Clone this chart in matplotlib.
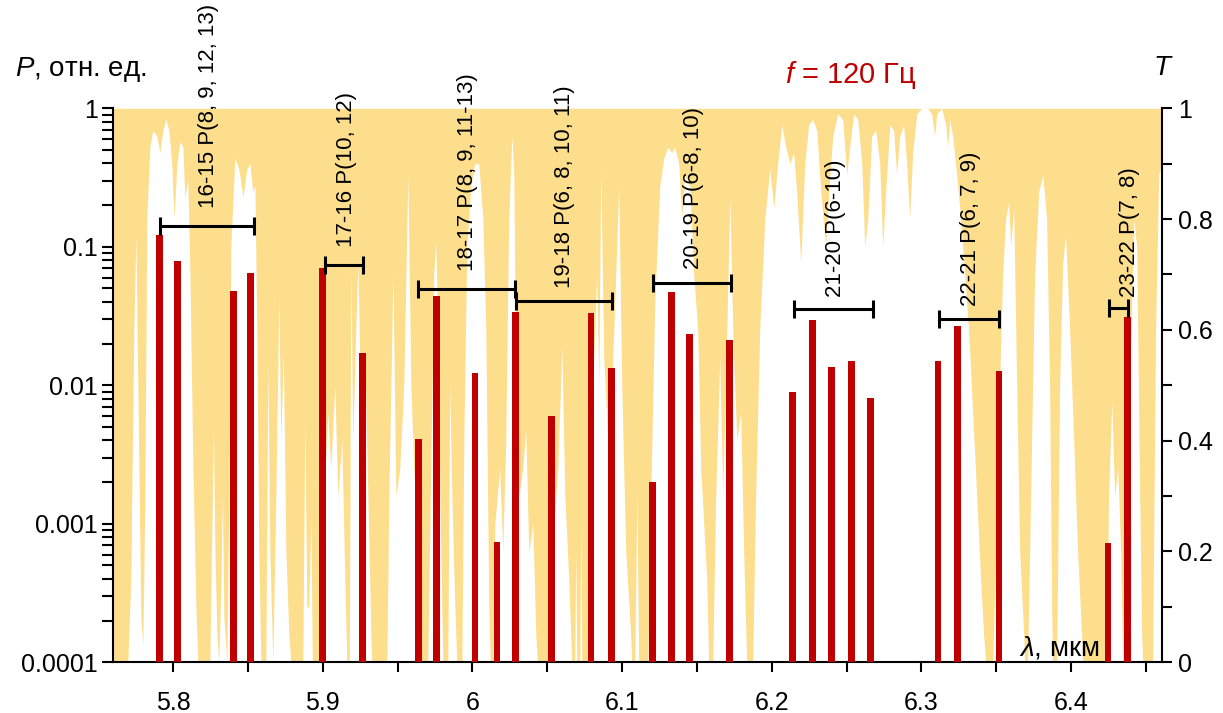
import matplotlib
matplotlib.use("Agg")
import matplotlib.pyplot as plt
from matplotlib.ticker import LogLocator, NullFormatter, FixedLocator

plt.rcParams['font.family'] = ['Liberation Sans', 'DejaVu Sans']
plt.rcParams['mathtext.fontset'] = 'custom'
plt.rcParams['mathtext.it'] = 'Liberation Sans:italic'
plt.rcParams['mathtext.rm'] = 'Liberation Sans'

# ---- transmission spectrum T(lambda) ----
trans_lam = [5.760, 5.7697, 5.7717, 5.7737, 5.7751, 5.7764, 5.7784, 5.7798, 5.7811, 5.7824,
             5.7844, 5.7864, 5.7891, 5.7911, 5.7931, 5.7951, 5.7971, 5.7991, 5.8005, 5.8025,
             5.8045, 5.8065, 5.8078, 5.8098, 5.8112, 5.8132, 5.8152, 5.8165, 5.8245, 5.8259,
             5.8269, 5.8279, 5.8292, 5.8305, 5.8319, 5.8329, 5.8339, 5.8359, 5.8372, 5.8385,
             5.8412, 5.8439, 5.8466, 5.8492, 5.8512, 5.8532, 5.8546, 5.8559, 5.8572, 5.8586,
             5.8619, 5.8633, 5.8646, 5.8666, 5.8686, 5.8706, 5.8719, 5.8736, 5.8753, 5.8773,
             5.8786, 5.8866, 5.8880, 5.8893, 5.8906, 5.8920, 5.8930, 5.8993, 5.9007, 5.9033,
             5.9053, 5.9080, 5.9100, 5.9127, 5.9147, 5.9160, 5.9177, 5.9187, 5.9200, 5.9220,
             5.9234, 5.9254, 5.9281, 5.9301, 5.9321, 5.9327, 5.9428, 5.9441, 5.9468, 5.9488,
             5.9514, 5.9541, 5.9568, 5.9588, 5.9608, 5.9635, 5.9648, 5.9701, 5.9721, 5.9741,
             5.9755, 5.9768, 5.9788, 5.9802, 5.9835, 5.9848, 5.9862, 5.9882, 5.9895, 5.9929,
             5.9942, 5.9962, 5.9989, 6.0015, 6.0042, 6.0069, 6.0089, 6.0109, 6.0119, 6.0136,
             6.0149, 6.0182, 6.0202, 6.0222, 6.0242, 6.0263, 6.0276, 6.0289, 6.0309, 6.0336,
             6.0356, 6.0376, 6.0403, 6.0423, 6.0433, 6.0503, 6.0516, 6.0543, 6.0570, 6.0597,
             6.0617, 6.0643, 6.0663, 6.0683, 6.0690, 6.0697, 6.0717, 6.0723, 6.0730, 6.0770,
             6.0784, 6.0810, 6.0830, 6.0844, 6.0857, 6.0877, 6.0904, 6.0931, 6.0957, 6.0977,
             6.0997, 6.1024, 6.1057, 6.1064, 6.1084, 6.1098, 6.1111, 6.1171, 6.1191, 6.1218,
             6.1251, 6.1278, 6.1305, 6.1331, 6.1351, 6.1378, 6.1398, 6.1418, 6.1452, 6.1478,
             6.1505, 6.1525, 6.1545, 6.1565, 6.1578, 6.1605, 6.1625, 6.1652, 6.1672, 6.1699,
             6.1719, 6.1739, 6.1766, 6.1792, 6.1812, 6.1832, 6.1872, 6.1892, 6.1919, 6.1953,
             6.1986, 6.2013, 6.2039, 6.2066, 6.2093, 6.2120, 6.2146, 6.2166, 6.2193, 6.2220,
             6.2246, 6.2273, 6.2300, 6.2327, 6.2360, 6.2380, 6.2407, 6.2440, 6.2474, 6.2500,
             6.2520, 6.2547, 6.2574, 6.2601, 6.2621, 6.2641, 6.2667, 6.2694, 6.2721, 6.2741,
             6.2761, 6.2788, 6.2814, 6.2834, 6.2854, 6.2881, 6.2901, 6.2921, 6.2941, 6.2968,
             6.3001, 6.3041, 6.3068, 6.3088, 6.3102, 6.3135, 6.3162, 6.3175, 6.3188, 6.3208,
             6.3235, 6.3262, 6.3289, 6.3315, 6.3342, 6.3369, 6.3395, 6.3415, 6.3429, 6.3476,
             6.3496, 6.3522, 6.3542, 6.3562, 6.3582, 6.3596, 6.3616, 6.3636, 6.3656, 6.3683,
             6.3689, 6.3709, 6.3729, 6.3756, 6.3783, 6.3810, 6.3836, 6.3856, 6.3870, 6.3876,
             6.3903, 6.3923, 6.3943, 6.3963, 6.3990, 6.4017, 6.4043, 6.4070, 6.4077, 6.4237,
             6.4250, 6.4271, 6.4291, 6.4311, 6.4331, 6.4344, 6.4371, 6.4391, 6.4418, 6.4438,
             6.4458, 6.4471, 6.4478, 6.4544, 6.4564, 6.4585, 6.4605]
trans_T = [0.0, 0.0, 0.15, 0.6, 0.77, 0.5, 0.08, 0.03, 0.3, 0.8,
           0.93, 0.96, 0.95, 0.92, 0.96, 0.98, 0.96, 0.9, 0.8, 0.9,
           0.94, 0.93, 0.84, 0.87, 0.7, 0.35, 0.1, 0.0, 0.0, 0.25,
           0.42, 0.2, 0.05, 0.0, 0.15, 0.3, 0.08, 0.0, 0.3, 0.75,
           0.91, 0.89, 0.84, 0.89, 0.9, 0.85, 0.86, 0.6, 0.2, 0.0,
           0.0, 0.54, 0.2, 0.0, 0.3, 0.66, 0.4, 0.56, 0.2, 0.05,
           0.0, 0.0, 0.44, 0.1, 0.1, 0.26, 0.0, 0.0, 0.3, 0.45,
           0.35, 0.5, 0.3, 0.4, 0.15, 0.0, 0.0, 0.71, 0.4, 0.6,
           0.72, 0.45, 0.55, 0.3, 0.05, 0.0, 0.0, 0.3, 0.70, 0.3,
           0.35, 0.5, 0.88, 0.5, 0.35, 0.2, 0.0, 0.0, 0.35, 0.7,
           0.76, 0.6, 0.2, 0.0, 0.0, 0.5, 0.3, 0.1, 0.0, 0.0,
           0.4, 0.75, 0.86, 0.9, 0.9, 0.8, 0.6, 0.1, 0.0, 0.0,
           0.25, 0.35, 0.2, 0.4, 0.8, 0.95, 0.88, 0.5, 0.3, 0.35,
           0.42, 0.2, 0.25, 0.05, 0.0, 0.0, 0.2, 0.25, 0.35, 0.57,
           0.3, 0.15, 0.0, 0.0, 0.2, 0.0, 0.0, 0.25, 0.0, 0.0,
           0.3, 0.55, 0.7, 0.5, 0.89, 0.55, 0.4, 0.5, 0.7, 0.86,
           0.5, 0.2, 0.05, 0.0, 0.0, 0.3, 0.0, 0.0, 0.3, 0.65,
           0.86, 0.91, 0.93, 0.92, 0.93, 0.9, 0.8, 0.88, 0.86, 0.7,
           0.6, 0.35, 0.25, 0.15, 0.0, 0.0, 0.3, 0.55, 0.3, 0.6,
           0.84, 0.6, 0.4, 0.45, 0.2, 0.0, 0.0, 0.3, 0.6, 0.8,
           0.89, 0.82, 0.9, 0.97, 0.93, 0.9, 0.92, 0.85, 0.72, 0.9,
           0.97, 0.98, 0.96, 0.85, 0.75, 0.85, 0.95, 0.99, 0.98, 0.88,
           0.93, 0.99, 0.98, 0.9, 0.75, 0.8, 0.95, 0.96, 0.9, 0.75,
           0.85, 0.97, 0.96, 0.88, 0.95, 0.97, 0.9, 0.8, 0.92, 0.99,
           1.0, 1.0, 0.99, 0.95, 0.99, 1.0, 0.97, 0.93, 0.98, 0.95,
           0.88, 0.8, 0.7, 0.6, 0.45, 0.3, 0.15, 0.05, 0.0, 0.0,
           0.2, 0.5, 0.7, 0.8, 0.83, 0.75, 0.82, 0.5, 0.2, 0.05,
           0.0, 0.0, 0.3, 0.7, 0.85, 0.88, 0.8, 0.5, 0.1, 0.0,
           0.0, 0.5, 0.72, 0.77, 0.6, 0.4, 0.2, 0.05, 0.0, 0.0,
           0.3, 0.47, 0.3, 0.35, 0.2, 0.0, 0.0, 0.5, 0.8, 0.75,
           0.3, 0.05, 0.0, 0.0, 0.6, 0.88, 0.9]

# ---- laser line powers ----
line_lam = [5.7907, 5.8030, 5.8402, 5.8518, 5.9000, 5.9266, 5.9637, 5.9760, 6.0016, 6.0163,
            6.0287, 6.0527, 6.0791, 6.0929, 6.1201, 6.1330, 6.1448, 6.1715, 6.2136, 6.2271,
            6.2399, 6.2532, 6.2661, 6.3111, 6.3241, 6.3518, 6.4247, 6.4376]
line_P = [0.122, 0.079, 0.048, 0.065, 0.070, 0.0172, 0.0041, 0.044, 0.0123, 0.00074,
          0.034, 0.0060, 0.033, 0.0134, 0.0020, 0.0475, 0.0234, 0.0213, 0.0090, 0.0295,
          0.0136, 0.0149, 0.0081, 0.0150, 0.0269, 0.0127, 0.00073, 0.0312]

# ---- band brackets and labels ----
band_left = [5.7911, 5.9013, 5.9637, 6.0288, 6.1207, 6.2147, 6.3118, 6.4251]
band_right = [5.8539, 5.9270, 6.0283, 6.0933, 6.1726, 6.2677, 6.3519, 6.4378]
band_P = [0.141, 0.0739, 0.0498, 0.0407, 0.0552, 0.0353, 0.0299, 0.0361]
band_text = ["16-15 P(8, 9, 12, 13)", "17-16 P(10, 12)", "18-17 P(8, 9, 11-13)",
             "19-18 P(6, 8, 10, 11)", "20-19 P(6-8, 10)", "21-20 P(6-10)",
             "22-21 P(6, 7, 9)", "23-22 P(7, 8)"]
band_text_lam = [5.8233, 5.9160, 5.9969, 6.0617, 6.1478, 6.2427, 6.3329, 6.4390]
band_text_P = [0.19, 0.0997, 0.0669, 0.0504, 0.0687, 0.0434, 0.0371, 0.0434]

x_ticks = [5.8, 5.9, 6.0, 6.1, 6.2, 6.3, 6.4]
x_ticklabels = ["5.8", "5.9", "6", "6.1", "6.2", "6.3", "6.4"]
x_minor = [5.85, 5.95, 6.05, 6.15, 6.25, 6.35, 6.45]
p_ticks = [1e-4, 1e-3, 1e-2, 1e-1, 1]
p_ticklabels = ["0.0001", "0.001", "0.01", "0.1", "1"]
t_ticks = [0, 0.2, 0.4, 0.6, 0.8, 1]
t_ticklabels = ["0", "0.2", "0.4", "0.6", "0.8", "1"]
t_minor = [0.1, 0.3, 0.5, 0.7, 0.9]

RED = "#C00000"
YELLOW = "#FDDE8D"
FS = 18

fig = plt.figure(figsize=(12.23, 7.13), dpi=100)
ax = fig.add_axes([0.09264, 0.07111, 0.85724, 0.77700])
ax2 = ax.twinx()
ax.set_zorder(2)
ax2.set_zorder(1)
ax.patch.set_visible(False)

ax2.fill_between(trans_lam, trans_T, 1, color=YELLOW, lw=0)
ax2.set_ylim(0, 1)

bottom = 1e-5
ax.bar(line_lam, [p - bottom for p in line_P], bottom=bottom, width=0.0045,
       color=RED, lw=0, zorder=3)
ax.set_yscale("log")
ax.set_ylim(1e-4, 1)
ax.set_xlim(5.76, 6.4605)

for l, r, p in zip(band_left, band_right, band_P):
    ax.errorbar([(l + r) / 2], [p], xerr=[(r - l) / 2], fmt="none", ecolor="black",
                elinewidth=2.2, capsize=6.5, capthick=2.2, zorder=4)
for t, xl, yp in zip(band_text, band_text_lam, band_text_P):
    ax.text(xl, yp, t, rotation=90, ha="center", va="bottom", fontsize=16, zorder=5)

# ticks
ax.set_xticks(x_ticks)
ax.set_xticklabels(x_ticklabels)
ax.xaxis.set_minor_locator(FixedLocator(x_minor))
ax.set_yticks(p_ticks)
ax.set_yticklabels(p_ticklabels)
ax.yaxis.set_minor_locator(LogLocator(base=10, subs=range(2, 10)))
ax.yaxis.set_minor_formatter(NullFormatter())
ax.tick_params(axis="x", which="both", direction="out", length=7.5, width=1.5,
               labelsize=FS, pad=13)
ax.tick_params(axis="y", which="both", direction="out", length=8, width=1.5,
               labelsize=FS, pad=3)
ax2.set_yticks(t_ticks)
ax2.set_yticklabels(t_ticklabels)
ax2.yaxis.set_minor_locator(FixedLocator(t_minor))
ax2.tick_params(axis="y", which="both", direction="out", length=7, width=1.5,
                labelsize=FS, pad=5)

for s in ["top", "right"]:
    ax.spines[s].set_visible(False)
for s in ["top", "left", "bottom"]:
    ax2.spines[s].set_visible(False)
for s in ["left", "bottom"]:
    ax.spines[s].set_linewidth(1.5)
ax2.spines["right"].set_linewidth(1.5)

fig.text(0.0123, 0.902, "$P$, отн. ед.", fontsize=20, ha="left", va="center")
fig.text(0.951, 0.9046, "$T$", fontsize=20, ha="center", va="center")
fig.text(0.6958, 0.8948, "$f$ = 120 Гц", fontsize=21, color=RED,
         ha="center", va="center")
ax.text(0.9405, 0.013, "$λ$, мкм", transform=ax.transAxes, fontsize=20,
        ha="right", va="baseline", zorder=6)

fig.savefig("out.png", dpi=100)
